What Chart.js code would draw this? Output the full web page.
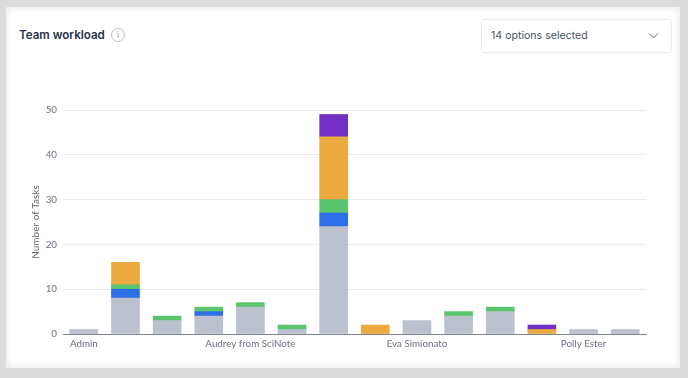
<!DOCTYPE html>
<html><head><meta charset="utf-8">
<script src="https://cdn.jsdelivr.net/npm/chart.js@4"></script>
<style>
html,body{margin:0;padding:0;width:688px;height:378px;overflow:hidden;background:#dcdcdc;font-family:Inter,sans-serif}
#card{position:absolute;left:6px;top:7px;width:674px;height:361px;background:#fff;box-shadow:inset 0 0 7px 1px rgba(0,0,0,.09)}
#title{position:absolute;left:19px;top:27px;font-size:11.6px;font-weight:600;color:#27324a;line-height:16px;white-space:nowrap}
#info{position:absolute;left:111px;top:28px;width:12px;height:12px;border:1px solid #b9bfcb;border-radius:50%;color:#9aa2b1;font-size:9px;line-height:12px;text-align:center}
#select{position:absolute;left:481px;top:19px;width:189px;height:32px;border:1px solid #e8eaee;border-radius:3px;background:#fff}
#select span{position:absolute;left:9px;top:8px;font-size:10.6px;line-height:16px;color:#4a5368;white-space:nowrap}
#select svg{position:absolute;left:166px;top:12px}
canvas{position:absolute;left:0;top:0}
</style></head>
<body>
<div id="card"></div>
<div id="title">Team workload</div>
<div id="info">i</div>
<div id="select"><span>14 options selected</span><svg width="11" height="8" viewBox="0 0 11 8"><path d="M1 1.5 L5.5 6 L10 1.5" fill="none" stroke="#5c6577" stroke-width="1"/></svg></div>
<canvas id="c" width="688" height="378"></canvas>
<script>
const categories=["Admin","","","","Audrey from SciNote","","","","Eva Simionato","","","","Polly Ester",""];
const grayValues=[1,8,3,4,6,1,24,null,3,4,5,null,1,1];
const blueValues=[null,2,null,1,null,null,3,null,null,null,null,null,null,null];
const greenValues=[null,1,1,1,1,1,3,null,null,1,1,null,null,null];
const orangeValues=[null,5,null,null,null,null,14,2,null,null,null,1,null,null];
const purpleValues=[null,null,null,null,null,null,5,null,null,null,null,1,null,null];
const yTicks=[0,10,20,30,40,50];
const font={family:"Lato, sans-serif",size:9.8};
const textColor="#6b7280";
function ds(data,color){return {data,backgroundColor:color,borderWidth:0,barThickness:28,stack:"s"};}
new Chart(document.getElementById("c"),{
 type:"bar",
 data:{labels:categories,datasets:[
  ds(grayValues,"#bbc1cd"),ds(blueValues,"#2e6fe8"),ds(greenValues,"#5cc46e"),ds(orangeValues,"#eba93f"),ds(purpleValues,"#7230c4")]},
 options:{
  responsive:false,animation:false,
  layout:{padding:{left:30,right:42,top:110,bottom:20}},
  plugins:{legend:{display:false},title:{display:false},tooltip:{enabled:false}},
  scales:{
   x:{stacked:true,grid:{display:false,drawTicks:false},border:{color:"#7d8490",width:1},
      afterFit(s){s.height=24;},
      ticks:{autoSkip:false,maxRotation:0,minRotation:0,padding:4,color:textColor,font}},
   y:{stacked:true,min:0,max:50,afterFit(s){s.width=33;},
      afterBuildTicks(s){s.ticks=yTicks.map(v=>({value:v}));},
      grid:{color:"#e9eaee",drawTicks:false},border:{display:false},
      ticks:{padding:6,color:textColor,font},
      title:{display:true,text:"Number of Tasks",color:"#5f6673",font:{family:"Lato, sans-serif",size:10},padding:0}}
  }
 }
});
</script>
</body></html>
